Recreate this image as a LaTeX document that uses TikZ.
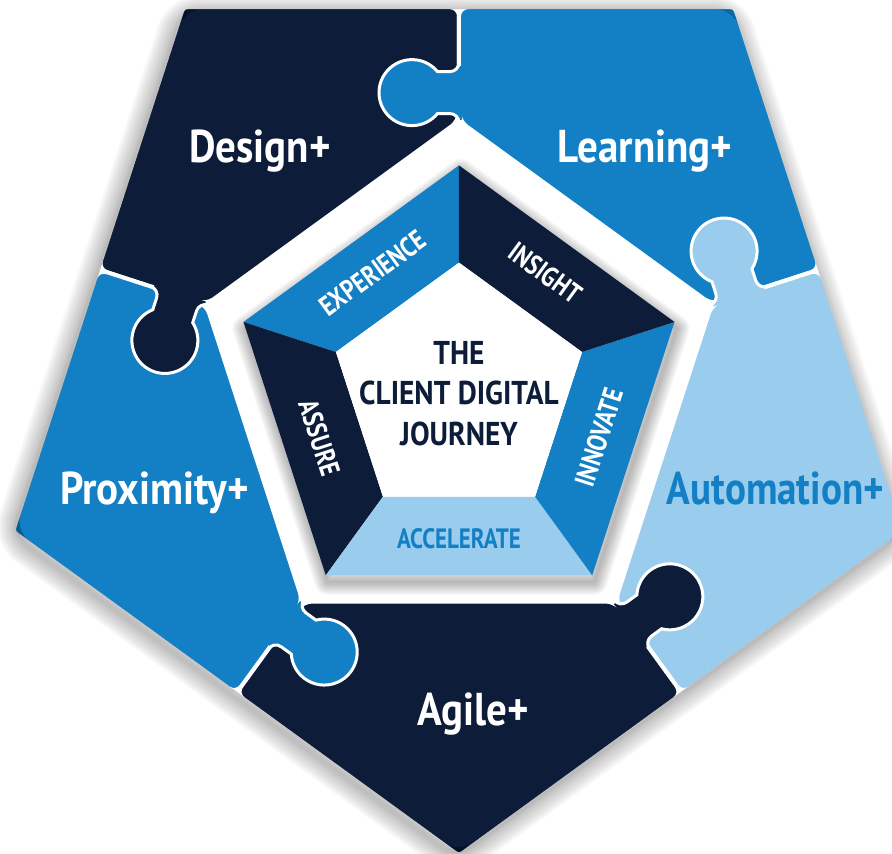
\documentclass[tikz,border=0pt]{standalone}
\usepackage{fontspec}
\setmainfont{PT Sans}[FakeStretch=0.89]
\newfontfamily\ringfont{PT Sans}[FakeStretch=0.82]
\newfontfamily\autofont{PT Sans}[FakeStretch=0.85]
\usetikzlibrary{calc}
\definecolor{navy}{RGB}{13,28,56}
\definecolor{midblue}{RGB}{19,127,196}
\definecolor{lightblue}{RGB}{154,204,238}
\tikzset{
  piecelabel/.style={font=\fontsize{46}{46}\selectfont\bfseries, text=white, anchor=base, inner sep=0pt},
  ringlabel/.style={font=\ringfont\fontsize{28}{28}\selectfont\bfseries, text=white, inner sep=0pt},
  titlelabel/.style={font=\fontsize{33}{33}\selectfont\bfseries, text=navy, anchor=base, inner sep=0pt},
  gapline/.style={draw=white, line width=4pt, rounded corners=9pt},
  knobline/.style={draw=white, line width=3pt},
}
% puzzle piece between divider angles #1 and #1+72
\newcommand\puzzlepiece[3]{%
  \pgfmathsetmacro\pa{#1}\pgfmathsetmacro\pv{#1+36}\pgfmathsetmacro\pb{#1+72}%
  \coordinate (#3-a1) at (\pa:265.7);
  \coordinate (#3-m1) at (\pa:379.4);
  \coordinate (#3-v) at (\pv:469);
  \coordinate (#3-m2) at (\pb:379.4);
  \coordinate (#3-a2) at (\pb:265.7);
  \path[fill=#2, gapline] (#3-a1) -- (#3-m1) -- ($(#3-v)!17pt!(#3-m1)$) .. controls (#3-v) .. ($(#3-v)!17pt!(#3-m2)$) -- (#3-m2) -- (#3-a2) -- cycle;
}
% puzzle knob on divider at angle #1, owned by colour #2
\newcommand\puzzleknob[3]{%
  \begin{scope}[shift={(#1:294)}, rotate=#1]
    \fill[#2] (-27,-2.6) rectangle (27,0.6);
    \path[fill=#2] (-30,0) coordinate (#3-s) arc[start angle=-90,end angle=0,radius=9] -- (-21,21.54)
      arc[start angle=230.5,end angle=-50.5,radius=33] -- (21,9)
      arc[start angle=180,end angle=270,radius=9] coordinate (#3-e) -- cycle;
    \path[knobline] (#3-s) arc[start angle=-90,end angle=0,radius=9] -- (-21,21.54)
      arc[start angle=230.5,end angle=-50.5,radius=33] -- (21,9)
      arc[start angle=180,end angle=270,radius=9];
  \end{scope}
}
\newcommand\ringseg[3]{%
  \pgfmathsetmacro\ra{#1}\pgfmathsetmacro\rb{#1+72}%
  \fill[#2] (\ra:226.6) coordinate (#3-o1) -- (\rb:226.6) coordinate (#3-o2) -- (\rb:129.4) coordinate (#3-i2) -- (\ra:129.4) coordinate (#3-i1) -- cycle;
}
\begin{document}
\begin{tikzpicture}[x=1pt,y=1pt]
\useasboundingbox (-459,-467.4) rectangle (433,386.6);
\clip (-459,-467.4) rectangle (433,386.6);
% pieces
\puzzlepiece{90}{navy}{design}
\puzzlepiece{18}{midblue}{learning}
\puzzlepiece{-54}{lightblue}{automation}
\puzzlepiece{-126}{navy}{agile}
\puzzlepiece{162}{midblue}{proximity}
% knobs
\puzzleknob{90}{midblue}{k1}
\puzzleknob{18}{lightblue}{k2}
\puzzleknob{-54}{navy}{k3}
\puzzleknob{-126}{midblue}{k4}
\puzzleknob{162}{navy}{k5}
% outer soft shadow, only outside the pieces
\begin{scope}[even odd rule]
  \clip[rounded corners=17pt] (-470,-480) -- (445,-480) -- (445,400) -- (-470,400) -- cycle
    (126:466.5) -- (54:466.5) -- (-18:466.5) -- (-90:466.5) -- (198:466.5) -- cycle;
  \begin{scope}[shift={(-3,-5)}]
    \foreach \i in {1,...,12}{
      \pgfmathsetmacro\lw{3.2*\i}
      \draw[black, opacity=0.022, line width=\lw pt, line join=round, rounded corners=18pt]
        (126:466.5) -- (54:466.5) -- (-18:466.5) -- (-90:466.5) -- (198:466.5) -- cycle;
    }
  \end{scope}
\end{scope}
% inner shadow
\begin{scope}[shift={(2,-12)}]
  \foreach \i in {1,...,10}{
    \pgfmathsetmacro\lw{2.6*\i}
    \draw[black, opacity=0.03, line width=\lw pt, line join=round]
      (90:226.6) -- (162:226.6) -- (234:226.6) -- (306:226.6) -- (18:226.6) -- cycle;
  }
\end{scope}
% inner ring
\begin{scope}[shift={(0,-5.4)}]
  \ringseg{90}{midblue}{experience}
  \ringseg{162}{navy}{assure}
  \ringseg{234}{lightblue}{accelerate}
  \ringseg{306}{midblue}{innovate}
  \ringseg{18}{navy}{insight}
  \fill[white] (90:129.4) -- (162:129.4) -- (234:129.4) -- (306:129.4) -- (18:129.4) -- cycle;
  \node[ringlabel, rotate=36] (lexp) at (126:147) {EXPERIENCE};
  \node[ringlabel, rotate=-36] (lins) at (54:147) {INSIGHT};
  \node[ringlabel, rotate=72] (linn) at (-18:147) {INNOVATE};
  \node[ringlabel, rotate=-72] (lass) at (198:147) {ASSURE};
  \node[ringlabel, text=midblue] (lacc) at (270:147) {ACCELERATE};
\end{scope}
% title
\node[titlelabel] (t1) at (0,21.6) {THE};
\node[titlelabel] (t2) at (0,-18.4) {CLIENT DIGITAL};
\node[titlelabel] (t3) at (0,-58.4) {JOURNEY};
% piece labels
\node[piecelabel] (ldesign) at (-199,223.6) {Design+};
\node[piecelabel] (llearning) at (186,223.6) {Learning+};
\node[piecelabel] (lprox) at (-304.5,-117.4) {Proximity+};
\node[piecelabel, font=\autofont\fontsize{46}{46}\selectfont\bfseries, text=midblue] (lauto) at (316.5,-117.4) {Automation+};
\node[piecelabel] (lagile) at (14,-339) {Agile+};
\end{tikzpicture}
\end{document}
